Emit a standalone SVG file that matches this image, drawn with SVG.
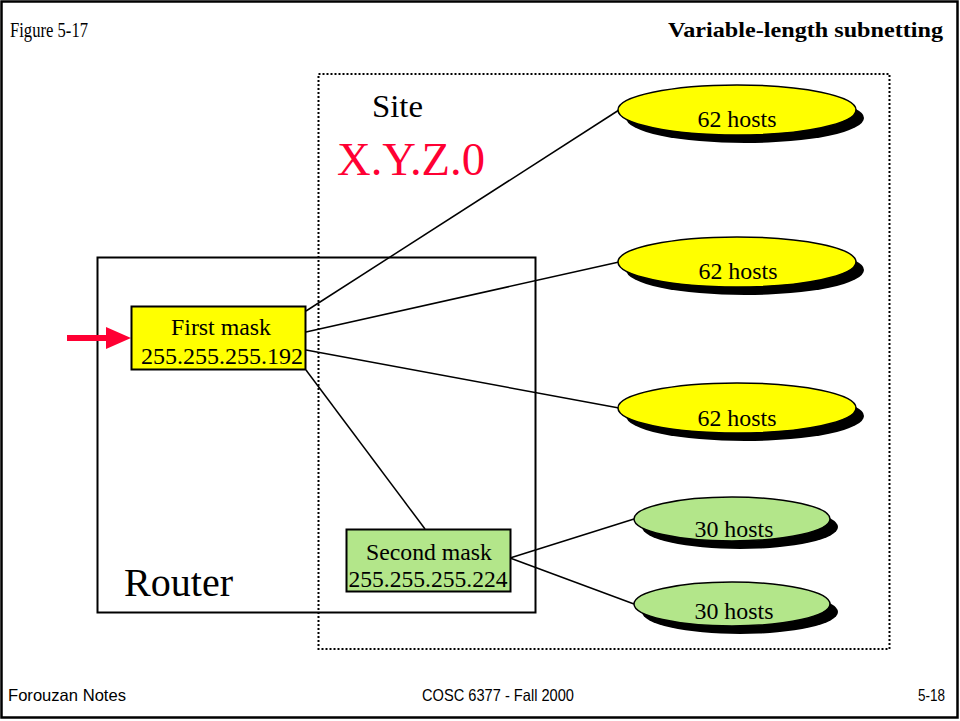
<svg xmlns="http://www.w3.org/2000/svg" width="960" height="721" viewBox="0 0 960 721">
<style>
.t{font-family:"Liberation Serif","Times New Roman",serif;fill:#000}
.m{font-size:23px;text-anchor:middle}
.s{font-family:"Liberation Sans",Arial,sans-serif;font-size:16.5px;fill:#000}
.shadow{fill:#000}
.y{fill:#FFFF00;stroke:#000;stroke-width:1.5}
.g{fill:#B3E68A;stroke:#000;stroke-width:1.5}
.c{stroke:#000;stroke-width:1.5;fill:none}
</style>
<rect x="0" y="0" width="960" height="721" fill="#fff"/>
<rect x="1.5" y="1.5" width="956" height="716" fill="none" stroke="#000" stroke-width="2.5"/>
<text class="t" x="10" y="37" font-size="21" textLength="78" lengthAdjust="spacingAndGlyphs">Figure 5-17</text>
<text class="t" x="668" y="37" font-size="22" font-weight="bold" textLength="275" lengthAdjust="spacingAndGlyphs">Variable-length subnetting</text>
<g id="site">
<rect x="318.5" y="74" width="571" height="575" fill="none" stroke="#000" stroke-width="2" stroke-dasharray="2,2"/>
<text class="t" x="372" y="117" font-size="32" textLength="51" lengthAdjust="spacingAndGlyphs">Site</text>
<text class="t" x="337" y="175" font-size="47" textLength="148" lengthAdjust="spacingAndGlyphs" style="fill:#FF0033">X.Y.Z.0</text>
</g>
<g id="router">
<rect x="97.5" y="257.5" width="438" height="355" fill="none" stroke="#000" stroke-width="2"/>
<text class="t" x="124" y="596" font-size="40" textLength="109" lengthAdjust="spacingAndGlyphs">Router</text>
</g>
<g id="connectors">
<line class="c" x1="306" y1="311" x2="619" y2="110"/>
<line class="c" x1="306" y1="332" x2="619" y2="262"/>
<line class="c" x1="306" y1="350" x2="619" y2="408"/>
<line class="c" x1="306" y1="370" x2="425" y2="529"/>
<line class="c" x1="510" y1="558" x2="634" y2="519"/>
<line class="c" x1="510" y1="558" x2="634" y2="604"/>
<path d="M67 335 H106 V327 L131 338 L106 349 V341 H67 Z" fill="#FF0033"/>
</g>
<g id="first-mask">
<rect x="131.5" y="306.5" width="174" height="63" fill="#FFFF00" stroke="#000" stroke-width="2"/>
<text class="t m" x="221" y="335" textLength="100" lengthAdjust="spacingAndGlyphs">First mask</text>
<text class="t m" x="222" y="364" textLength="162" lengthAdjust="spacingAndGlyphs">255.255.255.192</text>
</g>
<g id="second-mask">
<rect x="346.5" y="529.5" width="164" height="62" fill="#B3E68A" stroke="#000" stroke-width="2"/>
<text class="t m" x="429" y="560" textLength="126" lengthAdjust="spacingAndGlyphs">Second mask</text>
<text class="t m" x="428" y="587" textLength="159" lengthAdjust="spacingAndGlyphs">255.255.255.224</text>
</g>
<g id="hosts-1">
<ellipse class="shadow" cx="745" cy="118" rx="119" ry="25"/>
<ellipse class="y" cx="737" cy="110" rx="119" ry="25"/>
<text class="t m" x="737" y="127" textLength="79" lengthAdjust="spacingAndGlyphs">62 hosts</text>
</g>
<g id="hosts-2">
<ellipse class="shadow" cx="745" cy="270" rx="119" ry="25"/>
<ellipse class="y" cx="737" cy="262" rx="119" ry="25"/>
<text class="t m" x="738" y="279" textLength="79" lengthAdjust="spacingAndGlyphs">62 hosts</text>
</g>
<g id="hosts-3">
<ellipse class="shadow" cx="745" cy="416" rx="119" ry="25"/>
<ellipse class="y" cx="737" cy="408" rx="119" ry="25"/>
<text class="t m" x="737" y="426" textLength="79" lengthAdjust="spacingAndGlyphs">62 hosts</text>
</g>
<g id="hosts-4">
<ellipse class="shadow" cx="740" cy="527" rx="98" ry="22"/>
<ellipse class="g" cx="732" cy="519" rx="98" ry="22"/>
<text class="t m" x="734" y="537" textLength="79" lengthAdjust="spacingAndGlyphs">30 hosts</text>
</g>
<g id="hosts-5">
<ellipse class="shadow" cx="740" cy="612" rx="98" ry="22"/>
<ellipse class="g" cx="732" cy="604" rx="98" ry="22"/>
<text class="t m" x="734" y="619" textLength="79" lengthAdjust="spacingAndGlyphs">30 hosts</text>
</g>
<text class="s" x="8" y="701" textLength="118" lengthAdjust="spacingAndGlyphs">Forouzan Notes</text>
<text class="s" x="422" y="701" textLength="152" lengthAdjust="spacingAndGlyphs">COSC 6377 - Fall 2000</text>
<text class="s" x="918" y="701" textLength="27" lengthAdjust="spacingAndGlyphs">5-18</text>
</svg>
